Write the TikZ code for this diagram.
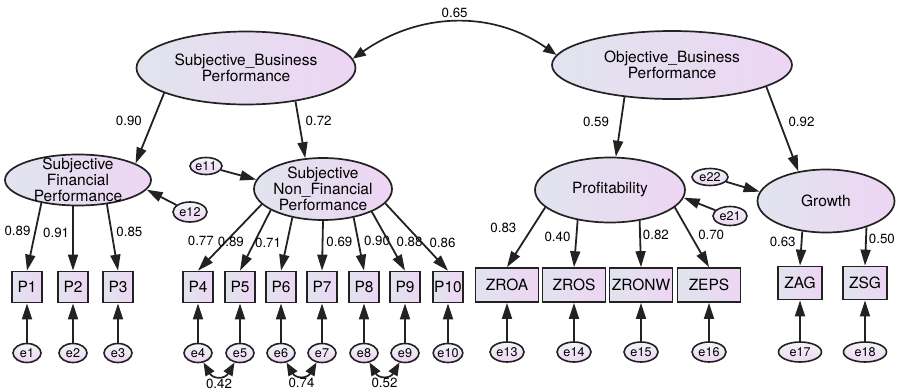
\documentclass[tikz,border=0pt]{standalone}
\usepackage{fontspec}
\setmainfont{TeX Gyre Heros}
\usetikzlibrary{arrows.meta,shapes.geometric}
\definecolor{amosgray}{HTML}{E1E4EE}
\definecolor{amospink}{HTML}{EDD5F3}
\definecolor{amosline}{HTML}{222222}
\begin{document}
\begin{tikzpicture}[x=1pt,y=1pt]
\tikzstyle{latent}=[ellipse, draw=amosline, line width=1.7pt, left color=amosgray, right color=amospink, inner sep=0pt]
\tikzstyle{lvtext}=[align=center, inner sep=0pt, font=\fontsize{15.5}{16}\selectfont]
\tikzstyle{item}=[rectangle, draw=amosline, line width=1.7pt, left color=amosgray, right color=amospink, inner sep=0pt, minimum width=30pt, minimum height=31pt, font=\fontsize{15.5}{16}\selectfont]
\tikzstyle{error}=[ellipse, draw=amosline, line width=1.6pt, top color=amosgray!40!white, bottom color=amospink, inner sep=0pt, minimum width=28pt, minimum height=19pt, font=\fontsize{12.6}{13}\selectfont]
\tikzstyle{regr}=[-{Triangle[length=16pt,width=10pt]}, line width=1.8pt, amosline]
\tikzstyle{cov}=[{Triangle[length=13pt,width=10pt]}-{Triangle[length=13pt,width=10pt]}, line width=1.7pt, amosline]
\tikzstyle{coef}=[inner sep=0pt, black, font=\fontsize{13.3}{14}\selectfont]
\useasboundingbox (0,0) rectangle (897,-391);
%
% latent variables
\node[latent, minimum width=219pt, minimum height=73pt, label={[lvtext]center:Subjective\_Business\\Performance}] (sbp) at (246,-68) {};
\node[latent, minimum width=240pt, minimum height=68pt, label={[lvtext]center:Objective\_Business\\Performance}] (obp) at (672,-65) {};
\node[latent, minimum width=146pt, minimum height=51pt, label={[lvtext]center:Subjective\\Financial\\Performance}] (sfp) at (78,-180) {};
\node[latent, minimum width=138pt, minimum height=62pt, label={[lvtext]center:Subjective\\Non\_Financial\\Performance}] (snf) at (323,-189) {};
\node[latent, minimum width=150pt, minimum height=65pt, label={[lvtext]center:Profitability}] (prof) at (610,-190) {};
\node[latent, minimum width=137pt, minimum height=63pt, label={[lvtext]center:Growth}] (grow) at (826,-201) {};
%
% observed items with their errors
\foreach \i/\x in {1/27,2/73,3/118,4/198,5/240,6/281,7/322,8/364,9/405,10/448} {
  \node[item] (p\i) at (\x,-287) {P\i};
  \node[error] (e\i) at (\x,-353) {e\i};
  \draw[regr] (e\i) -- (p\i);
}
\foreach \n/\lab/\x in {13/ZROA/507,14/ZROS/574,15/ZRONW/641,16/ZEPS/709} {
  \node[item, minimum width=63pt, minimum height=34pt] (\lab) at (\x,-285) {\lab};
  \node[error, minimum width=34pt, minimum height=20pt] (e\n) at (\x,-352) {e\n};
  \draw[regr] (e\n) -- (\lab);
}
\foreach \n/\lab/\x in {17/ZAG/800,18/ZSG/865} {
  \node[item, minimum width=44pt, minimum height=33pt] (\lab) at (\x,-283) {\lab};
  \node[error, minimum width=43pt, minimum height=20pt] (e\n) at (\x,-352) {e\n};
  \draw[regr] (e\n) -- (\lab);
}
%
% disturbances
\node[error, minimum width=32pt, minimum height=17pt] (e11) at (206,-166) {e11};
\node[error, minimum width=34pt, minimum height=20pt] (e12) at (190,-212) {e12};
\node[error, minimum width=34pt, minimum height=19pt] (e21) at (730,-216) {e21};
\node[error, minimum width=36pt, minimum height=17pt] (e22) at (710,-177) {e22};
\draw[regr] (e11) -- (snf.172);
\draw[regr] (e12) -- (sfp.352);
\draw[regr] (e21) -- (prof.354);
\draw[regr] (e22) -- (grow.172);
%
% structural paths
\draw[cov] (sbp.5) to[out=35,in=145] node[coef, above=4pt] {0.65} (obp.175);
\draw[regr] (sbp.197) -- node[coef, pos=.40, left=10pt] {0.90} (sfp.16);
\draw[regr] (sbp.326) -- node[coef, pos=.345, right=6pt] {0.72} (snf.120);
\draw[regr] (obp.214) -- node[coef, pos=.42, left=11pt] {0.59} (prof.80);
\draw[regr] (obp.347) -- node[coef, pos=.415, right=8pt] {0.92} (grow.133);
%
% loadings
\draw[regr] (sfp.212) -- node[coef, pos=.42, left=4pt] {0.89} (p1.north);
\draw[regr] (p2.north |- sfp.south) -- node[coef, pos=.42, left=3pt] {0.91} (p2.north);
\draw[regr] (sfp.320) -- node[coef, pos=.42, right=4pt] {0.85} (p3.north);
\draw[regr] (snf.194) -- node[coef, pos=.55, left=12pt] {0.77} (p4.north);
\draw[regr] (snf.202) -- node[coef, pos=.52, left=10pt] {0.89} (p5.north);
\draw[regr] (snf.223) -- node[coef, pos=.48, left=5pt] {0.71} (p6.north);
\draw[regr] (snf.south) -- node[coef, pos=.43, right=3pt] {0.69} (p7.north);
\draw[regr] (snf.317) -- node[coef, pos=.44, right=5pt] {0.90} (p8.north);
\draw[regr] (snf.335) -- node[coef, pos=.51, right=7pt] {0.88} (p9.north);
\draw[regr] (snf.347) -- node[coef, pos=.58, right=7pt] {0.86} (p10.north);
\draw[regr] (prof.195) -- node[coef, pos=.34, left=15pt] {0.83} (ZROA.north);
\draw[regr] (prof.223) -- node[coef, pos=.36, left=5pt] {0.40} (ZROS.north);
\draw[regr] (prof.314) -- node[coef, pos=.31, right=2pt] {0.82} (ZRONW.north);
\draw[regr] (prof.345) -- node[coef, pos=.455, right=7pt] {0.70} (ZEPS.north);
\draw[regr] (grow.232) -- node[coef, pos=.32, left=5pt] {0.63} (ZAG.north);
\draw[regr] (grow.327) -- node[coef, pos=.3, right=2pt] {0.50} (ZSG.north);
%
% error covariances
\draw[cov] (e4) to[out=-60,in=-120,looseness=1.6] node[coef, below=3pt] {0.42} (e5);
\draw[cov] (e6) to[out=-60,in=-120,looseness=1.6] node[coef, below=3pt] {0.74} (e7);
\draw[cov] (e8) to[out=-60,in=-120,looseness=1.6] node[coef, below=3pt] {0.52} (e9);
\end{tikzpicture}
\end{document}
